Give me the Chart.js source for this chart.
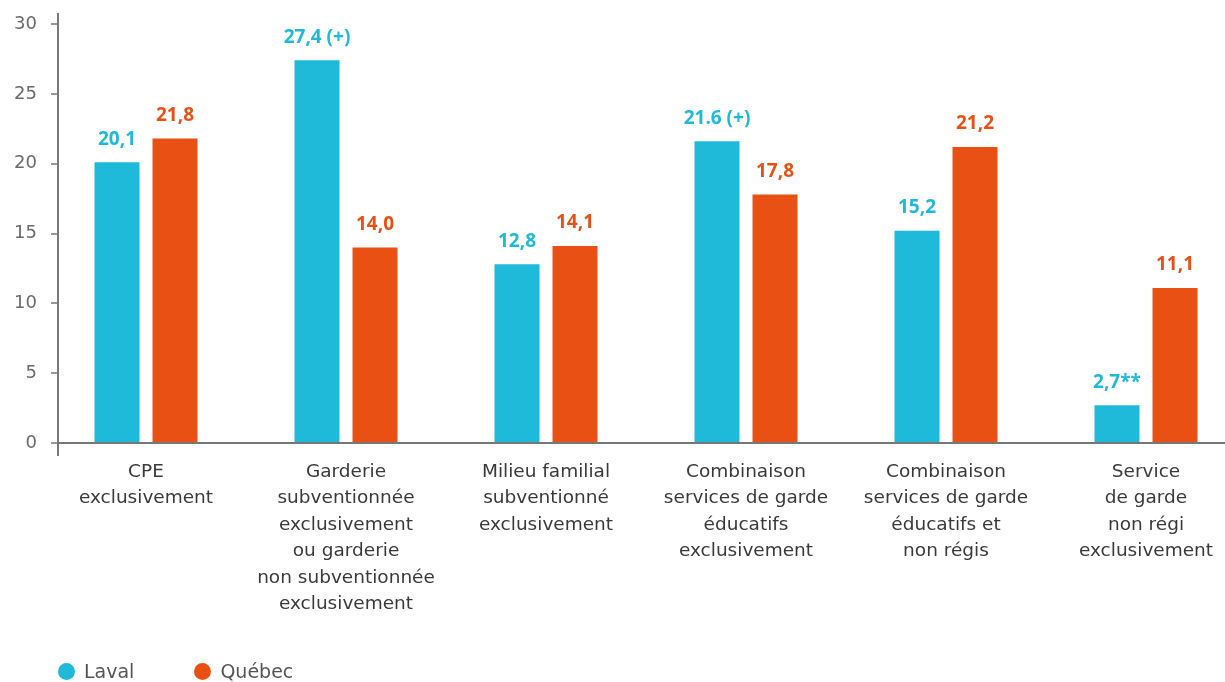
<!DOCTYPE html>
<html>
<head>
<meta charset="utf-8">
<script src="https://cdn.jsdelivr.net/npm/chart.js@4"></script>
<style>
  html, body { margin: 0; padding: 0; background: #fff; overflow: hidden; }
  #wrap { position: relative; width: 1225px; height: 682px; }
  #legend { position: absolute; left: 58px; top: 660px; font: 19px "DejaVu Sans", sans-serif; color: #555; }
  #legend span.item { display: inline-block; margin-right: 60px; }
  #legend span.dot { display: inline-block; width: 17px; height: 17px; border-radius: 50%; vertical-align: -2px; margin-right: 9px; }
</style>
</head>
<body>
<div id="wrap">
  <canvas id="chart" width="1225" height="682"></canvas>
  <div id="legend"></div>
</div>
<script>
const categories = [
  ["CPE", "exclusivement"],
  ["Garderie", "subventionnée", "exclusivement", "ou garderie", "non subventionnée", "exclusivement"],
  ["Milieu familial", "subventionné", "exclusivement"],
  ["Combinaison", "services de garde", "éducatifs", "exclusivement"],
  ["Combinaison", "services de garde", "éducatifs et", "non régis"],
  ["Service", "de garde", "non régi", "exclusivement"]
];
const lavalValues = [20.1, 27.4, 12.8, 21.6, 15.2, 2.7];
const quebecValues = [21.8, 14.0, 14.1, 17.8, 21.2, 11.1];
const lavalLabels = ["20,1", "27,4 (+)", "12,8", "21.6 (+)", "15,2", "2,7**"];
const quebecLabels = ["21,8", "14,0", "14,1", "17,8", "21,2", "11,1"];
const yTicks = [0, 5, 10, 15, 20, 25, 30];

const series = [
  { name: "Laval", color: "#1fb9d9", values: lavalValues, labels: lavalLabels },
  { name: "Québec", color: "#e95014", values: quebecValues, labels: quebecLabels }
];

const FONT = "DejaVu Sans";

// value labels above bars
const barLabels = {
  id: "barLabels",
  afterDatasetsDraw(chart) {
    const ctx = chart.ctx;
    ctx.save();
    ctx.font = "bold 19px 'Open Sans'";
    ctx.textAlign = "center";
    ctx.textBaseline = "middle";
    chart.data.datasets.forEach((ds, i) => {
      ctx.fillStyle = ds.backgroundColor;
      chart.getDatasetMeta(i).data.forEach((bar, j) => {
        ctx.fillText(series[i].labels[j], bar.x, bar.y - 23);
      });
    });
    ctx.restore();
  }
};

new Chart(document.getElementById("chart"), {
  type: "bar",
  data: {
    datasets: series.map(s => ({
      label: s.name,
      data: s.values.map((v, i) => ({ x: i, y: v })),
      backgroundColor: s.color,
      categoryPercentage: 0.58,
      barPercentage: 45 / 58
    }))
  },
  options: {
    responsive: false,
    animation: false,
    layout: { padding: { top: 14, left: 0, right: 0, bottom: 0 } },
    plugins: { legend: { display: false }, tooltip: { enabled: false } },
    scales: {
      x: {
        type: "linear",
        offset: false,
        min: -0.44,
        max: -0.44 + 1167 / 200,
        afterBuildTicks: s => { s.ticks = categories.map((c, i) => ({ value: i })); },
        afterFit: s => {
          s.height = 682 - 455;
          s.paddingLeft = 0;
          s.paddingRight = 0;
        },
        grid: { display: false, offset: false },
        border: { display: false },
        ticks: {
          autoSkip: false,
          maxRotation: 0,
          padding: -4,
          color: "#3a3a3a",
          font: { family: FONT, size: 18.5, lineHeight: 1.43 },
          callback: v => categories[v]
        }
      },
      y: {
        min: -0.86,
        max: 30.72,
        afterBuildTicks: s => { s.ticks = yTicks.map(v => ({ value: v })); },
        afterFit: s => {
          s.width = 58;
          s.paddingTop = 0;
          s.paddingBottom = 0;
        },
        border: { display: true, color: "#777", width: 2 },
        grid: {
          drawOnChartArea: true,
          color: c => (c.tick && c.tick.value === 0 ? "#777" : "rgba(0,0,0,0)"),
          lineWidth: 2,
          tickColor: "#777",
          tickLength: 7,
          tickWidth: 1.5
        },
        ticks: {
          padding: 14,
          color: "#6a6a6a",
          font: { family: FONT, size: 18 }
        }
      }
    }
  },
  plugins: [barLabels]
});

document.getElementById("legend").innerHTML = series.map(s =>
  '<span class="item"><span class="dot" style="background:' + s.color + '"></span>' + s.name + '</span>'
).join("");
</script>
</body>
</html>
